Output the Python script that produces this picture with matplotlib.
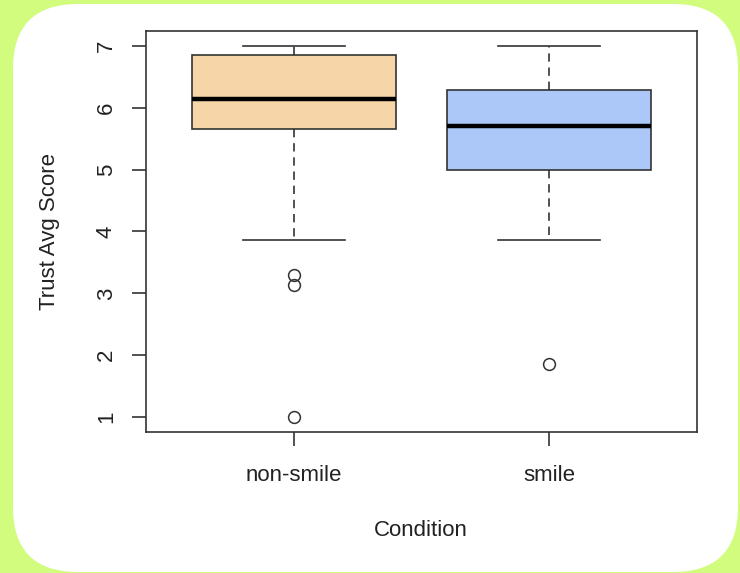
import matplotlib
matplotlib.use("Agg")
import matplotlib.pyplot as plt
from matplotlib.patches import FancyBboxPatch

# ---- data ----
categories = ["non-smile", "smile"]
q1 = [5.65, 5.0]
medians = [6.14, 5.71]
q3 = [6.86, 6.29]
whisker_low = [3.86, 3.86]
whisker_high = [7.0, 7.0]
outliers = [[3.29, 3.14, 1.0], [1.86]]
box_colors = ["#F6D6A8", "#ABC8F8"]
yticks = [1, 2, 3, 4, 5, 6, 7]

plt.rcParams['font.family'] = ['Liberation Sans', 'DejaVu Sans']

W, H = 740, 573
fig = plt.figure(figsize=(W / 100, H / 100), dpi=100)
fig.patch.set_facecolor("#d2fc7e")

# white rounded panel
x0, y0, x1, y1 = 13, 4, 738, 572
r = 65
panel = FancyBboxPatch((x0 / W, 1 - y1 / H), (x1 - x0) / W, (y1 - y0) / H,
                       boxstyle="round,pad=0,rounding_size=%f" % (r / W),
                       transform=fig.transFigure, facecolor="white",
                       edgecolor="none", zorder=-10, mutation_aspect=W / H)
fig.patches.append(panel)

ax = fig.add_axes([146 / W, 1 - 432 / H, (697 - 146) / W, (432 - 31) / H])
ax.set_zorder(5)
ax.set_facecolor("white")
ax.patch.set_alpha(0)

stats = []
for i, c in enumerate(categories):
    stats.append(dict(label=c, q1=q1[i], med=medians[i], q3=q3[i],
                      whislo=whisker_low[i], whishi=whisker_high[i],
                      fliers=outliers[i]))

line_col = "#333333"
bp = ax.bxp(stats, positions=[1, 2], widths=0.8, patch_artist=True,
            showfliers=True,
            boxprops=dict(edgecolor=line_col, linewidth=1.2),
            medianprops=dict(color="black", linewidth=3.2, solid_capstyle="butt"),
            whiskerprops=dict(color=line_col, linewidth=1.2, linestyle=(0, (5, 3.5))),
            capprops=dict(color=line_col, linewidth=1.2),
            capwidths=0.4,
            flierprops=dict(marker="o", markersize=8.5, markerfacecolor="none",
                            markeredgecolor=line_col, markeredgewidth=1.1))
for patch, col in zip(bp["boxes"], box_colors):
    patch.set_facecolor(col)

ax.set_xlim(0.42, 2.58)
ax.set_ylim(0.76, 7.24)
ax.set_yticks(yticks)
ax.set_yticklabels([str(v) for v in yticks], rotation=90, va="center")
ax.set_xticks([1, 2])
ax.set_xticklabels(categories)

for s in ax.spines.values():
    s.set_color(line_col)
    s.set_linewidth(1.2)
ax.tick_params(axis="both", length=10, width=1.2, color=line_col,
               labelsize=16, labelcolor="#222222", pad=11)
ax.tick_params(axis="x", pad=14)

fig.text(50 / W, 1 - 232 / H, "Trust Avg Score", rotation=90, fontsize=16,
         color="#222222", ha="center", va="center")
fig.text(421 / W, 1 - 530 / H, "Condition", fontsize=16, color="#222222",
         ha="center", va="center")

fig.savefig("out.png", dpi=100, facecolor=fig.get_facecolor())
